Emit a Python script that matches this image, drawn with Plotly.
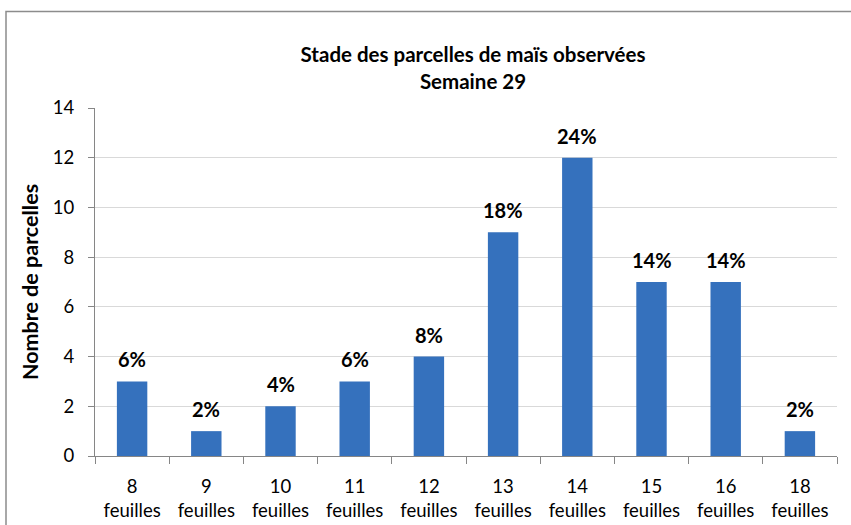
import plotly.graph_objects as go

categories = ["8<br>feuilles", "9<br>feuilles", "10<br>feuilles", "11<br>feuilles", "12<br>feuilles",
              "13<br>feuilles", "14<br>feuilles", "15<br>feuilles", "16<br>feuilles", "18<br>feuilles"]
counts = [3, 1, 2, 3, 4, 9, 12, 7, 7, 1]
pct_labels = ["6%", "2%", "4%", "6%", "8%", "18%", "24%", "14%", "14%", "2%"]
y_ticks = [0, 2, 4, 6, 8, 10, 12, 14]

W, H = 851, 525
ml, mr, mt, mb = 95, 14, 108, 69
pw = W - ml - mr
ph = H - mt - mb

FONT = "Lato, Open Sans, sans-serif"

fig = go.Figure(go.Bar(
    x=categories, y=counts,
    marker=dict(color="#3571bd", line=dict(width=0)),
))

for c, v, t in zip(categories, counts, pct_labels):
    fig.add_annotation(x=c, y=v, text="<b>%s</b>" % t, showarrow=False,
                       yanchor="middle", yshift=22,
                       font=dict(family=FONT, size=20, color="black"))

fig.update_layout(
    width=W, height=H,
    margin=dict(l=ml, r=mr, t=mt, b=mb, autoexpand=False),
    paper_bgcolor="white", plot_bgcolor="white",
    bargap=0.59,
    showlegend=False,
    font=dict(family=FONT, size=18, color="black"),
    title=dict(text="<b>Stade des parcelles de maïs observées<br>Semaine 29</b>",
               x=473 / W, xanchor="center", y=1 - 62 / H, yanchor="middle",
               font=dict(family=FONT, size=20.5, color="black")),
    xaxis=dict(showline=True, linecolor="#868686", linewidth=1, automargin=False,
               ticks="outside", tickson="boundaries", ticklen=7, tickcolor="#868686",
               tickfont=dict(family=FONT, size=18.5), ticklabelstandoff=14, showgrid=False),
    yaxis=dict(range=[0, 14], tickvals=y_ticks, showline=True, linecolor="#868686", linewidth=1,
               automargin=False,
               ticks="outside", ticklen=6, tickcolor="#868686",
               gridcolor="#d9d9d9", gridwidth=1,
               tickfont=dict(family=FONT, size=18.5), ticklabelstandoff=10,
               title=dict(text="<b>Nombre de parcelles</b>", standoff=8,
                          font=dict(family=FONT, size=21.5))),
)

# outer chart border
fig.add_shape(type="rect", xref="paper", yref="paper",
              x0=(6 - ml) / pw, x1=(W + 5 - ml) / pw,
              y0=-(H + 5 - mt - ph) / ph, y1=(H - 11.5 - mb) / ph,
              line=dict(color="#8c8c8c", width=1.5), layer="below")

fig.write_html("out.html", config={"displayModeBar": False},
               post_script="document.body.style.margin='0';")
